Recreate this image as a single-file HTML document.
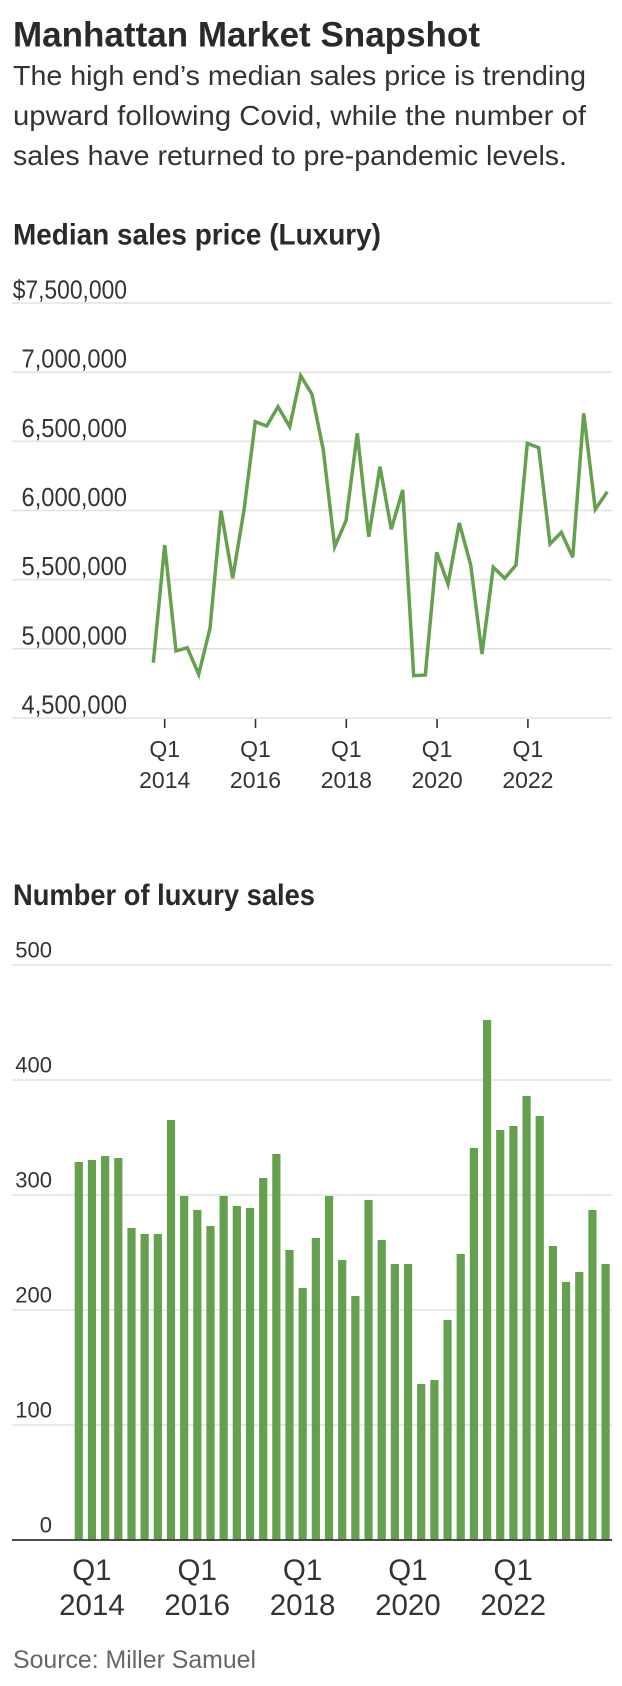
<!DOCTYPE html>
<html>
<head>
<meta charset="utf-8">
<style>
  html, body { margin: 0; padding: 0; background: #ffffff; }
  svg { display: block; }
  text { font-family: "Liberation Sans", "DejaVu Sans", sans-serif; }
</style>
</head>
<body>
<svg xmlns="http://www.w3.org/2000/svg" width="622" height="1686" viewBox="0 0 622 1686">
  <rect x="0" y="0" width="622" height="1686" fill="#ffffff"/>

  <!-- Header -->
  <text x="13" y="46.7" font-size="35" font-weight="bold" fill="#2a2a2a" textLength="467" lengthAdjust="spacingAndGlyphs">Manhattan Market Snapshot</text>
  <text x="13" y="85" font-size="28" fill="#333333" textLength="573" lengthAdjust="spacingAndGlyphs">The high end’s median sales price is trending</text>
  <text x="13" y="125" font-size="28" fill="#333333" textLength="573" lengthAdjust="spacingAndGlyphs">upward following Covid, while the number of</text>
  <text x="13" y="165" font-size="28" fill="#333333" textLength="554" lengthAdjust="spacingAndGlyphs">sales have returned to pre-pandemic levels.</text>

  <!-- Line chart title -->
  <text x="13" y="244.5" font-size="30" font-weight="bold" fill="#2a2a2a" textLength="368" lengthAdjust="spacingAndGlyphs">Median sales price (Luxury)</text>

  <!-- Line chart gridlines -->
  <g stroke="#e2e2e2" stroke-width="1.6">
    <line x1="12" y1="303" x2="612" y2="303"/>
    <line x1="12" y1="372.2" x2="612" y2="372.2"/>
    <line x1="12" y1="441.3" x2="612" y2="441.3"/>
    <line x1="12" y1="510.5" x2="612" y2="510.5"/>
    <line x1="12" y1="579.7" x2="612" y2="579.7"/>
    <line x1="12" y1="648.8" x2="612" y2="648.8"/>
    <line x1="12" y1="718" x2="612" y2="718"/>
  </g>
  <g font-size="26" fill="#333333">
    <text x="12.7" y="298.5" textLength="114.3" lengthAdjust="spacingAndGlyphs">$7,500,000</text>
    <text x="21.5" y="367.7" textLength="105.5" lengthAdjust="spacingAndGlyphs">7,000,000</text>
    <text x="21.5" y="436.8" textLength="105.5" lengthAdjust="spacingAndGlyphs">6,500,000</text>
    <text x="21.5" y="506" textLength="105.5" lengthAdjust="spacingAndGlyphs">6,000,000</text>
    <text x="21.5" y="575.2" textLength="105.5" lengthAdjust="spacingAndGlyphs">5,500,000</text>
    <text x="21.5" y="644.3" textLength="105.5" lengthAdjust="spacingAndGlyphs">5,000,000</text>
    <text x="21.5" y="713.5" textLength="105.5" lengthAdjust="spacingAndGlyphs">4,500,000</text>
  </g>

  <!-- Line chart ticks -->
  <g stroke="#333333" stroke-width="1.6">
    <line x1="164.7" y1="719" x2="164.7" y2="728"/>
    <line x1="255.5" y1="719" x2="255.5" y2="728"/>
    <line x1="346.3" y1="719" x2="346.3" y2="728"/>
    <line x1="437.1" y1="719" x2="437.1" y2="728"/>
    <line x1="527.9" y1="719" x2="527.9" y2="728"/>
  </g>
  <g font-size="23" fill="#333333" text-anchor="middle">
    <text x="164.7" y="757">Q1</text><text x="164.7" y="788">2014</text>
    <text x="255.5" y="757">Q1</text><text x="255.5" y="788">2016</text>
    <text x="346.3" y="757">Q1</text><text x="346.3" y="788">2018</text>
    <text x="437.1" y="757">Q1</text><text x="437.1" y="788">2020</text>
    <text x="527.9" y="757">Q1</text><text x="527.9" y="788">2022</text>
  </g>

  <!-- Line series -->
  <polyline fill="none" stroke="#65a04f" stroke-width="3.5" stroke-linejoin="miter" stroke-miterlimit="4"
    points="153.3,662.7 164.7,545 176,651 187.3,647.7 198.7,674.3 210,628.3 221,510.7 232.7,578.3 244,510 255.3,421.7 266.7,426 278,406.7 289.7,426.7 300.7,375.7 312,394.3 323.3,450 334.7,546.7 346,520.7 357.3,433.3 368.7,536.7 380,466.7 391.3,529.3 402.7,490 413.7,675.7 425.3,675 436.7,552.3 448,584 459.3,523 470.7,565 482,654 493.3,567.3 504.7,578.3 516,565 527.3,443.3 538.7,447.7 550,544 561.3,532.3 572.7,557.3 583.7,413.3 595.3,509.3 607.3,491.7"/>

  <!-- Bar chart title -->
  <text x="13" y="905" font-size="30" font-weight="bold" fill="#2a2a2a" textLength="302" lengthAdjust="spacingAndGlyphs">Number of luxury sales</text>

  <!-- Bar chart gridlines -->
  <g stroke="#e2e2e2" stroke-width="1.6">
    <line x1="12" y1="965" x2="612" y2="965"/>
    <line x1="12" y1="1080" x2="612" y2="1080"/>
    <line x1="12" y1="1195" x2="612" y2="1195"/>
    <line x1="12" y1="1310" x2="612" y2="1310"/>
    <line x1="12" y1="1425" x2="612" y2="1425"/>
  </g>
  <g font-size="22" fill="#333333" text-anchor="end">
    <text x="52" y="957.5">500</text>
    <text x="52" y="1072.5">400</text>
    <text x="52" y="1187.5">300</text>
    <text x="52" y="1302.5">200</text>
    <text x="52" y="1417.5">100</text>
    <text x="52" y="1532.5">0</text>
  </g>

  <!-- Bars -->
  <g fill="#65a04f">
    <rect x="74.7" y="1162" width="8.2" height="378"/>
    <rect x="87.87" y="1160" width="8.2" height="380"/>
    <rect x="101.04" y="1156" width="8.2" height="384"/>
    <rect x="114.21" y="1158" width="8.2" height="382"/>
    <rect x="127.38" y="1228" width="8.2" height="312"/>
    <rect x="140.55" y="1234" width="8.2" height="306"/>
    <rect x="153.72" y="1234" width="8.2" height="306"/>
    <rect x="166.89" y="1120" width="8.2" height="420"/>
    <rect x="180.06" y="1196" width="8.2" height="344"/>
    <rect x="193.23" y="1210" width="8.2" height="330"/>
    <rect x="206.4" y="1226" width="8.2" height="314"/>
    <rect x="219.57" y="1196" width="8.2" height="344"/>
    <rect x="232.74" y="1206" width="8.2" height="334"/>
    <rect x="245.91" y="1208" width="8.2" height="332"/>
    <rect x="259.08" y="1178" width="8.2" height="362"/>
    <rect x="272.25" y="1154" width="8.2" height="386"/>
    <rect x="285.42" y="1250" width="8.2" height="290"/>
    <rect x="298.59" y="1288" width="8.2" height="252"/>
    <rect x="311.76" y="1238" width="8.2" height="302"/>
    <rect x="324.93" y="1196" width="8.2" height="344"/>
    <rect x="338.1" y="1260" width="8.2" height="280"/>
    <rect x="351.27" y="1296" width="8.2" height="244"/>
    <rect x="364.44" y="1200" width="8.2" height="340"/>
    <rect x="377.61" y="1240" width="8.2" height="300"/>
    <rect x="390.78" y="1264" width="8.2" height="276"/>
    <rect x="403.95" y="1264" width="8.2" height="276"/>
    <rect x="417.12" y="1384" width="8.2" height="156"/>
    <rect x="430.29" y="1380" width="8.2" height="160"/>
    <rect x="443.46" y="1320" width="8.2" height="220"/>
    <rect x="456.63" y="1254" width="8.2" height="286"/>
    <rect x="469.8" y="1148" width="8.2" height="392"/>
    <rect x="482.97" y="1020" width="8.2" height="520"/>
    <rect x="496.14" y="1130" width="8.2" height="410"/>
    <rect x="509.31" y="1126" width="8.2" height="414"/>
    <rect x="522.48" y="1096" width="8.2" height="444"/>
    <rect x="535.65" y="1116" width="8.2" height="424"/>
    <rect x="548.82" y="1246" width="8.2" height="294"/>
    <rect x="561.99" y="1282" width="8.2" height="258"/>
    <rect x="575.16" y="1272" width="8.2" height="268"/>
    <rect x="588.33" y="1210" width="8.2" height="330"/>
    <rect x="601.5" y="1264" width="8.2" height="276"/>
  </g>

  <!-- Bar axis -->
  <line x1="12" y1="1540" x2="612" y2="1540" stroke="#333333" stroke-width="1.8"/>

  <g font-size="29.5" fill="#333333" text-anchor="middle">
    <text x="91.9" y="1580">Q1</text><text x="91.9" y="1615">2014</text>
    <text x="197.2" y="1580">Q1</text><text x="197.2" y="1615">2016</text>
    <text x="302.6" y="1580">Q1</text><text x="302.6" y="1615">2018</text>
    <text x="407.9" y="1580">Q1</text><text x="407.9" y="1615">2020</text>
    <text x="513.2" y="1580">Q1</text><text x="513.2" y="1615">2022</text>
  </g>

  <!-- Source -->
  <text x="13" y="1668" font-size="25" fill="#666666" textLength="243" lengthAdjust="spacingAndGlyphs">Source: Miller Samuel</text>
</svg>
</body>
</html>
